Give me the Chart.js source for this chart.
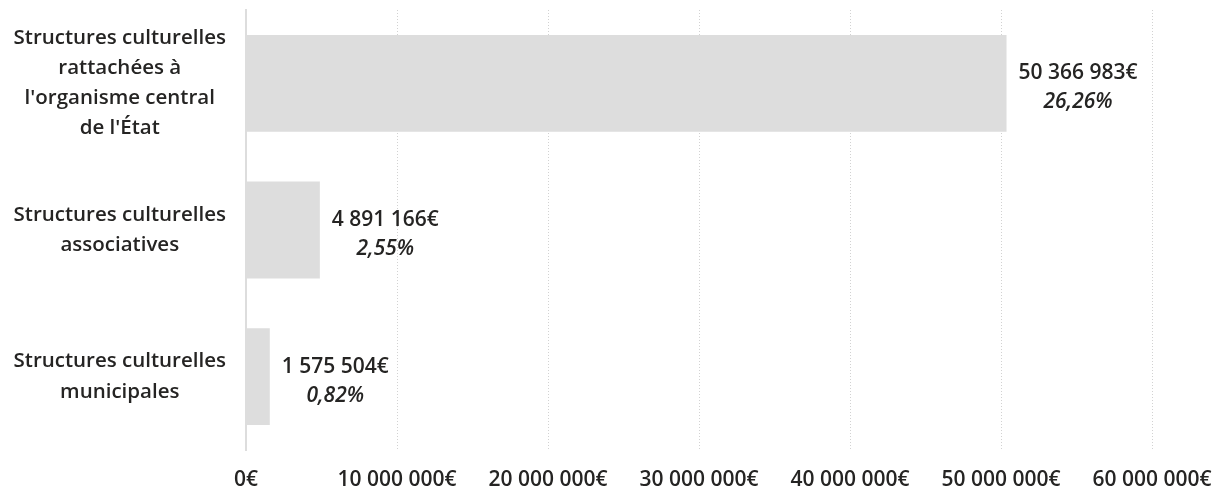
<!DOCTYPE html>
<html>
<head>
<meta charset="utf-8">
<script src="https://cdn.jsdelivr.net/npm/chart.js@4"></script>
<style>
html,body{margin:0;padding:0;background:#fff;}
#wrap{width:1225px;height:492px;position:relative;}
</style>
</head>
<body>
<div id="wrap"><canvas id="c" width="1225" height="492"></canvas></div>
<script>
const categories = [
  ["Structures culturelles", "rattachées à", "l'organisme central", "de l'État"],
  ["Structures culturelles", "associatives"],
  ["Structures culturelles", "municipales"]
];
const amounts = [50366983, 4891166, 1575504];
const shares = [26.26, 2.55, 0.82];
const xTicks = [0, 10000000, 20000000, 30000000, 40000000, 50000000, 60000000];

const FONT = "'Open Sans', 'Noto Sans', sans-serif";
const TEXT = '#252423';
const DSIZE = 21;

function fmtEuro(v) {
  return String(Math.round(v)).replace(/\B(?=(\d{3})+(?!\d))/g, ' ') + '€';
}
function fmtPct(v) {
  return v.toFixed(2).replace('.', ',') + '%';
}

const labelPlugin = {
  id: 'barLabels',
  afterDatasetsDraw(chart) {
    const ctx = chart.ctx;
    const meta = chart.getDatasetMeta(0);
    meta.data.forEach((bar, i) => {
      const v = fmtEuro(amounts[i]);
      const p = fmtPct(shares[i]);
      ctx.save();
      ctx.fillStyle = TEXT;
      ctx.textBaseline = 'middle';
      ctx.textAlign = 'center';
      ctx.font = '600 ' + DSIZE + 'px ' + FONT;
      const w1 = ctx.measureText(v).width;
      ctx.font = 'italic 600 ' + DSIZE + 'px ' + FONT;
      const w2 = ctx.measureText(p).width;
      const w = Math.max(w1, w2);
      const cx = bar.x + 12 + w / 2;
      ctx.font = '600 ' + DSIZE + 'px ' + FONT;
      ctx.fillText(v, cx, bar.y - 10);
      ctx.font = 'italic 600 ' + DSIZE + 'px ' + FONT;
      ctx.fillText(p, cx, bar.y + 19);
      ctx.restore();
    });
  }
};

new Chart(document.getElementById('c'), {
  type: 'bar',
  data: {
    labels: categories,
    datasets: [{
      data: amounts,
      backgroundColor: '#dddddd',
      borderWidth: 0,
      barPercentage: 0.66,
      categoryPercentage: 1
    }]
  },
  options: {
    indexAxis: 'y',
    responsive: false,
    animation: false,
    layout: { padding: { left: 10, right: 0, top: 10, bottom: 0 } },
    plugins: { legend: { display: false }, tooltip: { enabled: false } },
    scales: {
      x: {
        min: 0,
        max: 60000000,
        afterBuildTicks(scale) { scale.ticks = xTicks.map(v => ({ value: v })); },
        afterFit(scale) { scale.height = 42; scale.paddingRight = 73; scale.paddingLeft = 0; },
        ticks: {
          color: TEXT,
          font: { family: FONT, size: DSIZE, weight: '600' },
          padding: 17,
          maxRotation: 0,
          autoSkip: false,
          callback: (v) => fmtEuro(v)
        },
        grid: { display: true, color: '#d2d2d2', drawTicks: false, lineWidth: 1 },
        border: { display: false, dash: [1, 2] }
      },
      y: {
        afterFit(scale) { scale.width = 236; scale.paddingTop = 0; scale.paddingBottom = 0; },
        ticks: {
          color: TEXT,
          font: { family: FONT, size: 20.5, weight: '600', lineHeight: 1.47 },
          padding: 20,
          crossAlign: 'center'
        },
        grid: { display: false, drawTicks: false },
        border: { display: true, color: '#dddddd', width: 2 }
      }
    }
  },
  plugins: [labelPlugin]
});
</script>
</body>
</html>
